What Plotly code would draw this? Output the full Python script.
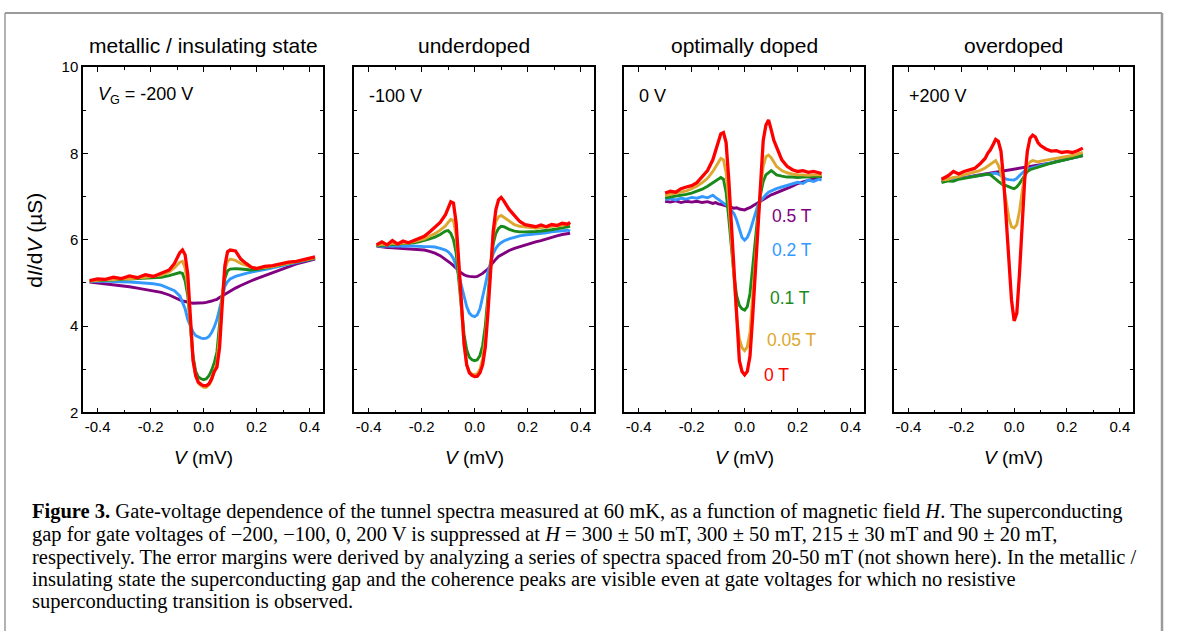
import plotly.graph_objects as go

# ---------------- data ----------------
fields = ["0.5 T", "0.2 T", "0.1 T", "0.05 T", "0 T"]
colors = ["#800080", "#3399FF", "#1A8A1A", "#DDA830", "#FF0000"]

panel_titles = ["metallic / insulating state", "underdoped", "optimally doped", "overdoped"]
gate_labels = ["<i>V</i><sub>G</sub> = -200 V", "-100 V", "0 V", "+200 V"]

x_ticks = [-0.4, -0.2, 0.0, 0.2, 0.4]
x_ticklabels = ["-0.4", "-0.2", "0.0", "0.2", "0.4"]
y_ticks = [2, 4, 6, 8, 10]
y_ticklabels = ["2", "4", "6", "8", "10"]

# Panel 1: V_G = -200 V
p1_v = [-0.43, -0.40, -0.37, -0.34, -0.31, -0.28, -0.25, -0.22, -0.19, -0.16, -0.13, -0.11, -0.09, -0.08,
        -0.07, -0.06, -0.05, -0.04, -0.03, -0.02, -0.01, 0.00, 0.01, 0.02, 0.03, 0.04, 0.05, 0.06, 0.07,
        0.08, 0.09, 0.10, 0.12, 0.14, 0.16, 0.18, 0.20, 0.23, 0.26, 0.29, 0.32, 0.35, 0.38, 0.42]
p1_05T = [5.02, 5.00, 4.98, 4.95, 4.93, 4.91, 4.88, 4.85, 4.82, 4.78, 4.72, 4.66, 4.60, 4.58,
          4.57, 4.55, 4.54, 4.53, 4.53, 4.54, 4.53, 4.54, 4.55, 4.56, 4.58, 4.60, 4.62, 4.66, 4.70,
          4.74, 4.78, 4.82, 4.88, 4.94, 5.00, 5.05, 5.10, 5.17, 5.24, 5.31, 5.38, 5.44, 5.49, 5.55]
p1_02T = [5.03, 5.04, 5.04, 5.03, 5.03, 5.02, 5.01, 5.00, 4.98, 4.95, 4.88, 4.82, 4.70, 4.57,
          4.40, 4.15, 3.98, 3.86, 3.78, 3.74, 3.72, 3.71, 3.72, 3.76, 3.85, 3.98, 4.15, 4.40, 4.68,
          4.92, 5.03, 5.09, 5.15, 5.19, 5.22, 5.25, 5.27, 5.31, 5.35, 5.39, 5.43, 5.47, 5.51, 5.57]
p1_01T = [5.04, 5.05, 5.06, 5.06, 5.07, 5.08, 5.09, 5.10, 5.11, 5.13, 5.17, 5.21, 5.24, 5.22,
          5.05, 4.70, 4.00, 3.30, 2.95, 2.82, 2.78, 2.76, 2.78, 2.85, 2.98, 3.15, 3.40, 4.00, 4.70,
          5.10, 5.28, 5.32, 5.33, 5.32, 5.31, 5.30, 5.31, 5.34, 5.37, 5.41, 5.45, 5.49, 5.53, 5.57]
p1_005T = [5.04, 5.06, 5.08, 5.07, 5.10, 5.09, 5.12, 5.13, 5.15, 5.18, 5.25, 5.35, 5.48, 5.50,
           5.35, 4.90, 4.00, 3.20, 2.85, 2.68, 2.62, 2.58, 2.58, 2.64, 2.75, 2.95, 3.15, 3.80, 4.70,
           5.30, 5.50, 5.55, 5.52, 5.45, 5.40, 5.36, 5.34, 5.36, 5.38, 5.42, 5.46, 5.49, 5.53, 5.58]
p1_0T = [5.05, 5.09, 5.08, 5.13, 5.10, 5.16, 5.12, 5.19, 5.15, 5.22, 5.30, 5.45, 5.70, 5.76,
         5.65, 5.20, 4.20, 3.20, 2.85, 2.70, 2.65, 2.62, 2.62, 2.66, 2.78, 2.95, 3.05, 3.50, 4.50,
         5.40, 5.72, 5.76, 5.74, 5.55, 5.45, 5.36, 5.33, 5.38, 5.40, 5.44, 5.48, 5.50, 5.55, 5.60]

# Panel 2: V_G = -100 V
p2_v = [-0.37, -0.35, -0.33, -0.31, -0.29, -0.27, -0.25, -0.23, -0.21, -0.19, -0.17, -0.15, -0.13,
        -0.11, -0.10, -0.09, -0.08, -0.07, -0.06, -0.05, -0.04, -0.03, -0.02, -0.01, 0.00, 0.01, 0.02,
        0.03, 0.04, 0.05, 0.06, 0.07, 0.08, 0.09, 0.10, 0.11, 0.13, 0.15, 0.17, 0.19, 0.21, 0.23, 0.25,
        0.27, 0.29, 0.31, 0.33, 0.35, 0.36]
p2_05T = [5.85, 5.83, 5.82, 5.81, 5.80, 5.79, 5.79, 5.78, 5.77, 5.76, 5.73, 5.69, 5.63,
          5.55, 5.50, 5.45, 5.40, 5.34, 5.28, 5.23, 5.19, 5.16, 5.15, 5.14, 5.14, 5.15, 5.18,
          5.22, 5.27, 5.32, 5.40, 5.48, 5.55, 5.61, 5.65, 5.69, 5.75, 5.80, 5.84, 5.88, 5.92, 5.95, 5.98,
          6.02, 6.06, 6.09, 6.12, 6.14, 6.15]
p2_02T = [5.86, 5.85, 5.86, 5.85, 5.86, 5.85, 5.86, 5.85, 5.85, 5.84, 5.84, 5.83, 5.80,
          5.76, 5.72, 5.66, 5.56, 5.40, 5.18, 4.92, 4.65, 4.45, 4.30, 4.24, 4.22, 4.26, 4.40,
          4.65, 4.95, 5.25, 5.50, 5.68, 5.80, 5.88, 5.93, 5.97, 6.02, 6.06, 6.09, 6.11, 6.12, 6.14, 6.15,
          6.16, 6.18, 6.19, 6.20, 6.22, 6.20]
p2_01T = [5.86, 5.87, 5.87, 5.89, 5.89, 5.90, 5.91, 5.93, 5.95, 5.98, 6.02, 6.06, 6.12,
          6.20, 6.21, 6.15, 6.00, 5.70, 5.10, 4.40, 3.80, 3.45, 3.28, 3.22, 3.20, 3.22, 3.32,
          3.55, 4.00, 4.70, 5.40, 5.90, 6.15, 6.26, 6.31, 6.30, 6.24, 6.20, 6.18, 6.18, 6.18, 6.19, 6.20,
          6.21, 6.23, 6.25, 6.27, 6.30, 6.31]
p2_005T = [5.87, 5.90, 5.88, 5.92, 5.90, 5.93, 5.92, 5.95, 5.98, 6.02, 6.08, 6.14, 6.22,
           6.32, 6.40, 6.47, 6.45, 6.10, 5.30, 4.30, 3.55, 3.10, 2.94, 2.89, 2.87, 2.90, 3.00,
           3.25, 3.70, 4.50, 5.40, 6.10, 6.42, 6.53, 6.56, 6.52, 6.42, 6.35, 6.31, 6.29, 6.28, 6.27, 6.28,
           6.29, 6.30, 6.31, 6.33, 6.36, 6.38]
p2_0T = [5.88, 5.95, 5.88, 5.98, 5.90, 5.97, 5.93, 5.98, 6.03, 6.08, 6.18, 6.28, 6.40,
         6.58, 6.72, 6.88, 6.85, 6.40, 5.50, 4.40, 3.60, 3.10, 2.92, 2.86, 2.83, 2.84, 2.92,
         3.10, 3.50, 4.30, 5.30, 6.20, 6.70, 6.92, 6.98, 6.90, 6.70, 6.55, 6.42, 6.35, 6.33, 6.30, 6.34,
         6.30, 6.35, 6.33, 6.38, 6.36, 6.40]

# Panel 3: V_G = 0 V
p3_v = [-0.30, -0.28, -0.26, -0.24, -0.22, -0.20, -0.18, -0.16, -0.14, -0.12, -0.11, -0.10, -0.09,
        -0.08, -0.07, -0.06, -0.05, -0.04, -0.03, -0.02, -0.01, 0.00, 0.01, 0.02, 0.03, 0.04, 0.05,
        0.06, 0.07, 0.08, 0.09, 0.10, 0.11, 0.12, 0.14, 0.16, 0.18, 0.20, 0.22, 0.24, 0.26, 0.28, 0.29]
p3_05T = [6.89, 6.87, 6.90, 6.86, 6.89, 6.87, 6.89, 6.86, 6.88, 6.84, 6.86, 6.83, 6.82,
          6.80, 6.78, 6.76, 6.75, 6.73, 6.74, 6.71, 6.70, 6.69, 6.72, 6.74, 6.78, 6.82, 6.86,
          6.90, 6.94, 6.97, 7.01, 7.04, 7.06, 7.09, 7.14, 7.19, 7.24, 7.30, 7.34, 7.38, 7.41, 7.44, 7.46]
p3_02T = [6.93, 6.95, 6.92, 6.96, 6.94, 6.98, 6.96, 7.00, 6.97, 7.03, 6.98, 6.94, 6.90,
          6.84, 6.80, 6.76, 6.68, 6.60, 6.45, 6.25, 6.05, 5.99, 6.05, 6.20, 6.40, 6.62, 6.80,
          6.90, 6.98, 7.04, 7.10, 7.13, 7.16, 7.18, 7.22, 7.26, 7.30, 7.33, 7.30, 7.38, 7.35, 7.40, 7.38]
p3_01T = [6.97, 6.99, 7.00, 7.02, 7.05, 7.08, 7.12, 7.17, 7.24, 7.32, 7.38, 7.42, 7.44,
          7.40, 7.10, 6.50, 5.80, 5.15, 4.70, 4.48, 4.40, 4.37, 4.45, 4.75, 5.35, 6.00, 6.60,
          7.05, 7.35, 7.50, 7.56, 7.60, 7.55, 7.50, 7.47, 7.45, 7.45, 7.44, 7.45, 7.45, 7.46, 7.46, 7.47]
p3_005T = [7.02, 7.05, 7.08, 7.10, 7.13, 7.18, 7.24, 7.32, 7.42, 7.58, 7.68, 7.80, 7.88,
           7.85, 7.55, 6.90, 6.00, 5.05, 4.20, 3.70, 3.50, 3.43, 3.52, 3.85, 4.60, 5.50, 6.40,
           7.20, 7.70, 7.92, 7.96, 7.90, 7.80, 7.70, 7.60, 7.55, 7.52, 7.50, 7.50, 7.49, 7.50, 7.50, 7.50]
p3_0T = [7.08, 7.12, 7.10, 7.18, 7.22, 7.25, 7.32, 7.45, 7.60, 7.85, 8.05, 8.30, 8.45,
         8.48, 8.25, 7.40, 6.30, 5.10, 4.00, 3.20, 2.95, 2.87, 2.95, 3.30, 4.20, 5.30, 6.40,
         7.50, 8.30, 8.65, 8.77, 8.55, 8.30, 8.15, 7.85, 7.70, 7.62, 7.58, 7.60, 7.56, 7.58, 7.55, 7.53]

# Panel 4: V_G = +200 V
p4_v = [-0.275, -0.25, -0.23, -0.21, -0.19, -0.17, -0.15, -0.13, -0.11, -0.10, -0.09, -0.08, -0.07,
        -0.06, -0.05, -0.04, -0.03, -0.02, -0.01, 0.00, 0.01, 0.02, 0.03, 0.04, 0.05, 0.06, 0.07,
        0.08, 0.09, 0.10, 0.12, 0.14, 0.16, 0.18, 0.20, 0.22, 0.24, 0.26]
p4_05T = [7.36, 7.38, 7.40, 7.42, 7.44, 7.46, 7.48, 7.50, 7.52, 7.53, 7.54, 7.55, 7.56,
          7.57, 7.58, 7.59, 7.60, 7.61, 7.62, 7.63, 7.64, 7.65, 7.66, 7.67, 7.68, 7.69, 7.70,
          7.71, 7.72, 7.73, 7.75, 7.78, 7.81, 7.84, 7.87, 7.90, 7.92, 7.95]
p4_02T = [7.35, 7.37, 7.39, 7.41, 7.43, 7.45, 7.47, 7.49, 7.51, 7.52, 7.53, 7.54, 7.54,
          7.52, 7.48, 7.43, 7.40, 7.39, 7.38, 7.38, 7.42, 7.48, 7.55, 7.60, 7.63, 7.65, 7.67,
          7.69, 7.71, 7.72, 7.75, 7.78, 7.81, 7.84, 7.87, 7.90, 7.92, 7.95]
p4_01T = [7.32, 7.36, 7.35, 7.40, 7.42, 7.44, 7.46, 7.48, 7.50, 7.52, 7.50, 7.46, 7.40,
          7.35, 7.30, 7.26, 7.25, 7.22, 7.20, 7.18, 7.22, 7.30, 7.40, 7.50, 7.58, 7.62, 7.64,
          7.66, 7.68, 7.70, 7.74, 7.77, 7.80, 7.83, 7.86, 7.89, 7.92, 7.95]
p4_005T = [7.38, 7.40, 7.44, 7.46, 7.50, 7.53, 7.56, 7.60, 7.66, 7.70, 7.75, 7.80, 7.83,
           7.72, 7.55, 7.25, 6.85, 6.50, 6.30, 6.27, 6.35, 6.65, 7.10, 7.50, 7.72, 7.80, 7.83,
           7.82, 7.80, 7.82, 7.84, 7.86, 7.88, 7.90, 7.92, 7.95, 7.98, 8.02]
p4_0T = [7.40, 7.48, 7.58, 7.52, 7.58, 7.62, 7.65, 7.75, 7.88, 8.00, 8.08, 8.20, 8.32,
         8.28, 8.05, 7.40, 6.50, 5.50, 4.60, 4.12, 4.30, 5.20, 6.30, 7.40, 8.05, 8.35, 8.42,
         8.38, 8.25, 8.18, 8.10, 8.05, 8.06, 8.02, 8.04, 8.02, 8.06, 8.12]

# field labels placed in panel 3 (V, dI/dV positions)
label_x = [0.18, 0.18, 0.17, 0.18, 0.12]
label_y = [6.56, 5.77, 4.66, 3.67, 2.86]

panels = [
    (p1_v, [p1_05T, p1_02T, p1_01T, p1_005T, p1_0T]),
    (p2_v, [p2_05T, p2_02T, p2_01T, p2_005T, p2_0T]),
    (p3_v, [p3_05T, p3_02T, p3_01T, p3_005T, p3_0T]),
    (p4_v, [p4_05T, p4_02T, p4_01T, p4_005T, p4_0T]),
]

# ---------------- layout geometry ----------------
W, H = 1179, 639
px_left = [83, 354, 624, 894]
px_right = [323, 594, 864, 1133]
py_top, py_bot = 59.5, 414.5
ydom = [1 - py_bot / H, 1 - py_top / H]

fig = go.Figure()
FONT = "Liberation Sans, Arial, sans-serif"
SERIF = "Liberation Serif, Times New Roman, serif"

for i, (v, curves) in enumerate(panels):
    xa = "x" if i == 0 else f"x{i+1}"
    ya = "y" if i == 0 else f"y{i+1}"
    for j, yv in enumerate(curves):
        fig.add_trace(go.Scatter(
            x=v, y=yv, mode="lines", xaxis=xa, yaxis=ya, showlegend=False,
            line=dict(color=colors[j], width=3.3 if j == 4 else 2.9), name=fields[j]))

layout = dict(width=W, height=H, margin=dict(l=0, r=0, t=0, b=0),
              paper_bgcolor="white", plot_bgcolor="white", showlegend=False)
for i in range(4):
    xk = "xaxis" if i == 0 else f"xaxis{i+1}"
    yk = "yaxis" if i == 0 else f"yaxis{i+1}"
    layout[xk] = dict(
        domain=[px_left[i] / W, px_right[i] / W], range=[-0.455, 0.45],
        anchor="y" if i == 0 else f"y{i+1}",
        showline=True, linecolor="black", linewidth=1.5, mirror="allticks",
        ticks="inside", ticklen=5, tickwidth=1.2, tickcolor="black",
        tickvals=x_ticks, ticktext=x_ticklabels,
        tickfont=dict(family=FONT, size=15, color="black"),
        minor=dict(ticks="inside", tickvals=[-0.3, -0.1, 0.1, 0.3], ticklen=3, tickwidth=1.2, tickcolor="black"),
        showgrid=False, zeroline=False, fixedrange=True)
    layout[yk] = dict(
        domain=ydom, range=[2, 10],
        anchor="x" if i == 0 else f"x{i+1}",
        showline=True, linecolor="black", linewidth=1.5, mirror="allticks",
        ticks="inside", ticklen=5, tickwidth=1.2, tickcolor="black",
        tickvals=y_ticks, ticktext=y_ticklabels, showticklabels=(i == 0),
        tickfont=dict(family=FONT, size=15, color="black"),
        minor=dict(ticks="inside", tickvals=[3, 5, 7, 9], ticklen=3, tickwidth=1.2, tickcolor="black"),
        showgrid=False, zeroline=False, fixedrange=True)

fig.update_layout(**layout)

ann = []
for i in range(4):
    cx = (px_left[i] + px_right[i]) / 2 / W
    ann.append(dict(text=panel_titles[i], x=cx, y=1 - 38 / H, xref="paper", yref="paper",
                    showarrow=False, font=dict(family=FONT, size=21, color="black"),
                    xanchor="center", yanchor="middle"))
    ann.append(dict(text="<i>V</i> (mV)", x=cx, y=1 - 461 / H, xref="paper", yref="paper",
                    showarrow=False, font=dict(family=FONT, size=19, color="black"),
                    xanchor="center", yanchor="middle"))
    xr = "x" if i == 0 else f"x{i+1}"
    yr = "y" if i == 0 else f"y{i+1}"
    ann.append(dict(text=gate_labels[i], x=-0.405, y=9.33, xref=xr, yref=yr,
                    showarrow=False, font=dict(family=FONT, size=18, color="black"),
                    xanchor="left", yanchor="middle"))

for j in range(5):
    ann.append(dict(text=fields[j], x=label_x[j], y=label_y[j], xref="x3", yref="y3",
                    showarrow=False, font=dict(family=FONT, size=17.5, color=colors[j]),
                    xanchor="center", yanchor="middle"))

ann.append(dict(text="d<i>I</i>/d<i>V</i> (µS)", x=35 / W, y=1 - 238 / H, xref="paper", yref="paper",
                showarrow=False, textangle=-90, font=dict(family=FONT, size=21, color="black"),
                xanchor="center", yanchor="middle"))

caption = [
    "<b>Figure 3.</b> Gate-voltage dependence of the tunnel spectra measured at 60 mK, as a function of magnetic field <i>H</i>. The superconducting",
    "gap for gate voltages of −200, −100, 0, 200 V is suppressed at <i>H</i> = 300 ± 50 mT, 300 ± 50 mT, 215 ± 30 mT and 90 ± 20 mT,",
    "respectively. The error margins were derived by analyzing a series of spectra spaced from 20-50 mT (not shown here). In the metallic /",
    "insulating state the superconducting gap and the coherence peaks are visible even at gate voltages for which no resistive",
    "superconducting transition is observed.",
]
cap_y = [516, 540, 563, 586, 609]
for t, yy in zip(caption, cap_y):
    ann.append(dict(text=t, x=30 / W, y=1 - yy / H, xref="paper", yref="paper", showarrow=False,
                    font=dict(family=SERIF, size=20.5, color="black"), xanchor="left", yanchor="middle"))

fig.update_layout(annotations=ann)

# outer frame of the figure box
fig.add_shape(type="line", xref="paper", yref="paper", x0=5 / W, x1=1162 / W, y0=1 - 4 / H, y1=1 - 4 / H,
              line=dict(color="#9a9a9a", width=2))
fig.add_shape(type="line", xref="paper", yref="paper", x0=5 / W, x1=5 / W, y0=0, y1=1 - 4 / H,
              line=dict(color="#9a9a9a", width=1.5))
fig.add_shape(type="line", xref="paper", yref="paper", x0=1162 / W, x1=1162 / W, y0=0, y1=1 - 4 / H,
              line=dict(color="#9a9a9a", width=2.5))

fig.write_html("out.html")
